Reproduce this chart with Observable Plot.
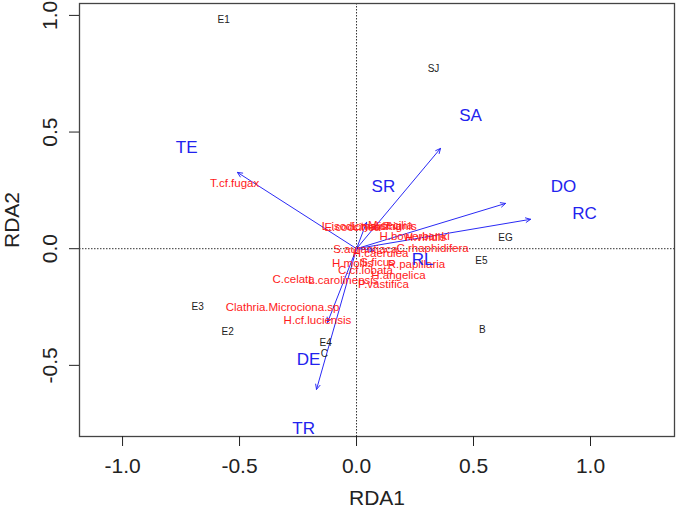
<!DOCTYPE html>
<html>
<head>
<meta charset="utf-8">
<script src="https://cdn.jsdelivr.net/npm/d3@7"></script>
<script src="https://cdn.jsdelivr.net/npm/@observablehq/plot@0.6"></script>
<style>
  html, body { margin: 0; padding: 0; background: white; }
</style>
</head>
<body>
<div id="chart"></div>
<script>
// Sites (black labels)
const siteNames = ["E1", "SJ", "EG", "E5", "B", "E3", "E2", "E4", "C"];
const siteX = [-0.568, 0.329, 0.637, 0.534, 0.538, -0.679, -0.551, -0.132, -0.137];
const siteY = [0.983, 0.773, 0.048, -0.050, -0.346, -0.247, -0.358, -0.402, -0.449];

// Environmental variables (blue arrows + labels)
const envNames = ["TE", "SA", "SR", "DO", "RC", "RL", "DE", "TR"];
const envX = [-0.509, 0.359, 0.043, 0.637, 0.744, 0.073, -0.124, -0.171];
const envY = [0.327, 0.430, 0.113, 0.194, 0.126, -0.007, -0.316, -0.603];
const envLabelX = [-0.726, 0.487, 0.115, 0.885, 0.974, 0.282, -0.205, -0.226];
const envLabelY = [0.433, 0.571, 0.267, 0.267, 0.151, -0.046, -0.474, -0.770];

// Species (red labels)
const speciesNames = [
  "T.cf.fugax", "C.celata", "L.carolinensis", "Clathria.Microciona.sp", "H.cf.luciensis",
  "P.vastifica", "L.isodictyalis", "E.coccinea", "L.maxima", "T.ignis", "M.cecilia",
  "H.bowerbanki", "H.viridis", "S.aurantiaca", "C.rhaphidifera", "H.caerulea",
  "H.mollis", "S.ficus", "R.papillaria", "C.cf.lobata", "H.angelica"
];
const speciesX = [
  -0.521, -0.269, -0.056, -0.316, -0.167,
  0.115, -0.009, -0.017, 0.085, 0.188, 0.145,
  0.248, 0.295, 0.038, 0.325, 0.103,
  -0.017, 0.090, 0.256, 0.038, 0.179
];
const speciesY = [
  0.280, -0.132, -0.136, -0.252, -0.307,
  -0.153, 0.098, 0.092, 0.096, 0.094, 0.100,
  0.053, 0.047, -0.003, 0.001, -0.020,
  -0.063, -0.060, -0.067, -0.093, -0.114
];

// Axis ticks
const xTicks = [-1.0, -0.5, 0.0, 0.5, 1.0];
const yTicks = [-0.5, 0.0, 0.5, 1.0];

const sites = siteNames.map((n, i) => ({name: n, x: siteX[i], y: siteY[i]}));
const env = envNames.map((n, i) => ({name: n, x: envX[i], y: envY[i], lx: envLabelX[i], ly: envLabelY[i]}));
const species = speciesNames.map((n, i) => ({name: n, x: speciesX[i], y: speciesY[i]}));

const fmt = d => d.toFixed(1);

const chart = Plot.plot({
  width: 685,
  height: 512,
  marginLeft: 79,
  marginRight: 11,
  marginTop: 3,
  marginBottom: 76,
  style: {fontFamily: "'Liberation Sans', Arial, sans-serif", background: "white", color: "#333"},
  x: {domain: [-1.184, 1.359]},
  y: {domain: [-0.805, 1.051]},
  marks: [
    Plot.ruleX([0], {stroke: "#333", strokeDasharray: "1.5,1.5"}),
    Plot.ruleY([0], {stroke: "#333", strokeDasharray: "1.5,1.5"}),
    Plot.arrow(env, {x1: d => 0, y1: d => 0, x2: "x", y2: "y", stroke: "#2a2af5", strokeWidth: 1, headLength: 8, headAngle: 50}),
    Plot.text(species, {x: "x", y: "y", text: "name", fill: "#ff1a1a", fontSize: 11.5}),
    Plot.text(sites, {x: "x", y: "y", text: "name", fill: "#222", fontSize: 10, fontWeight: 500}),
    Plot.text(env, {x: "lx", y: "ly", text: "name", fill: "#2222ee", fontSize: 17}),
    Plot.frame({stroke: "#444", strokeWidth: 1.3}),
    Plot.axisX({ticks: xTicks, tickFormat: fmt, tickSize: 10, tickPadding: 12, fontSize: 21, color: "#222",
      label: "RDA1", labelAnchor: "center", labelOffset: 68, labelArrow: "none"}),
    Plot.axisY({ticks: yTicks, tickFormat: fmt, tickRotate: -90, tickSize: 10, tickPadding: 13, fontSize: 21, color: "#222",
      label: "RDA2", labelAnchor: "center", labelOffset: 75, labelArrow: "none"})
  ]
});

document.getElementById("chart").appendChild(chart);
</script>
</body>
</html>
